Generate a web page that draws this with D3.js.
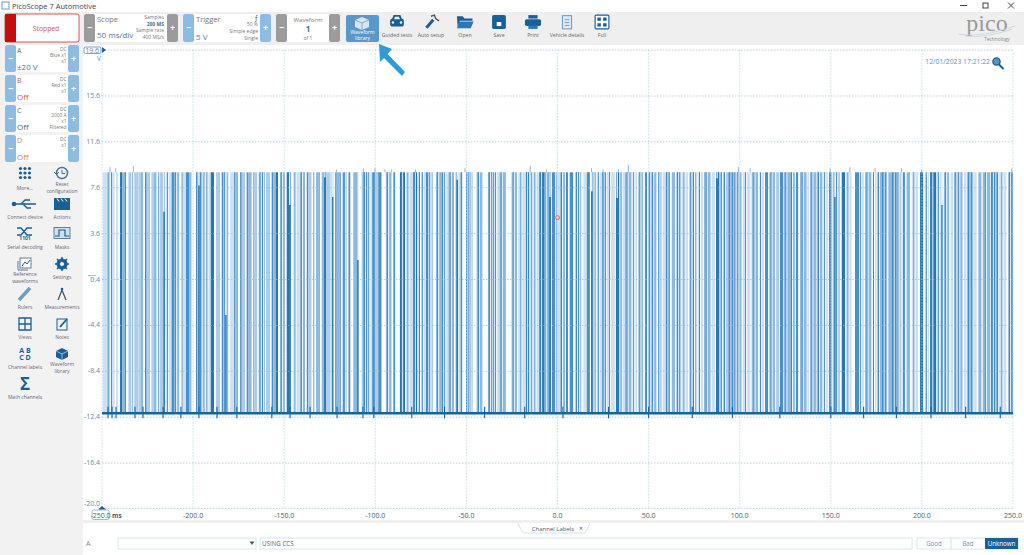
<!DOCTYPE html>
<html lang="en">
<head>
<meta charset="UTF-8">
<title>PicoScope 7 Automotive</title>
<script src="https://d3js.org/d3.v7.min.js"></script>
<style>
  html, body { margin: 0; padding: 0; background: #fff; overflow: hidden; }
  svg { display: block; }
  text { font-family: "Open Sans", sans-serif; }
</style>
</head>
<body>
<svg id="chart" width="1024" height="555"></svg>
<script>
// Waveform: time each band starts (ms) and how dense the trace looks there (0 = gap, 5 = solid)
const bandMs = [
  -249.6,-247.1,-246.5,-245.8,-245.1,-244.5,-243.0,-242.3,-241.0,-240.1,-239.0,-237.6,-236.8,-235.5,-233.7,-233.3,-232.8,-232.3,-231.3,-231.0,
  -230.4,-230.0,-228.8,-227.3,-226.4,-225.5,-223.6,-222.7,-222.2,-221.8,-220.0,-219.1,-218.5,-218.2,-216.3,-216.0,-215.4,-215.0,-211.8,-210.5,
  -207.5,-206.3,-205.7,-203.9,-202.0,-200.8,-198.4,-197.7,-196.2,-195.3,-190.3,-188.5,-187.4,-185.2,-184.3,-183.4,-180.6,-179.7,-177.5,-176.8,
  -175.2,-174.2,-173.3,-171.5,-170.6,-169.8,-167.8,-166.9,-166.4,-164.7,-164.0,-160.5,-160.0,-157.8,-156.9,-155.9,-154.5,-153.4,-152.3,-149.5,
  -148.6,-147.2,-146.2,-145.0,-141.3,-138.5,-137.6,-136.7,-134.9,-134.0,-133.4,-132.5,-130.3,-129.4,-128.1,-127.0,
  -124.9,-122.7,-122.0,-121.2,-119.4,-118.9,-117.9,-117.2,-115.4,-114.7,-113.6,-112.1,-110.3,-109.5,-107.5,-106.6,-104.4,-101.7,-100.2,-98.4,
  -96.5,-94.2,-91.0,-90.1,-89.0,-86.5,-83.7,-83.2,-79.2,-77.0,-72.2,-70.9,-68.2,-66.7,-63.6,-62.7,-59.9,-56.8,-56.3,-53.2,
  -52.2,-50.2,-49.5,-46.2,-44.4,-41.1,-38.0,-34.9,-31.9,-28.3,-25.2,-22.1,-21.5,-17.3,-15.5,-10.0,-7.4,-5.0,-1.9,-0.1,
  1.4,4.1,4.6,5.9,6.7,8.7,9.8,13.2,14.2,15.6,16.0,17.8,18.7,21.1,21.5,24.6,26.6,27.0,31.5,32.1,
  33.9,37.0,40.7,41.1,43.8,44.4,47.1,48.0,49.3,49.8,54.4,55.3,57.2,57.7,59.5,61.7,62.7,64.5,65.4,67.6,
  68.1,71.8,72.4,76.4,76.9,80.0,80.4,84.1,84.6,86.4,87.0,88.8,93.8,96.5,101.1,101.6,106.0,106.6,110.2,110.8,
  113.4,113.9,115.7,116.3,119.4,120.0,121.8,122.1,124.0,124.3,
  127.6,130.3,130.9,132.2,133.1,136.8,137.1,138.2,138.6,141.9,142.2,145.5,145.9,148.6,149.0,150.5,151.0,155.1,156.0,157.8,
  158.3,161.5,163.3,165.7,166.0,168.2,168.8,172.4,173.0,175.2,175.5,177.9,180.7,181.6,183.4,186.2,188.9,189.5,190.7,191.6,
  193.5,194.4,198.1,199.0,200.8,201.7,204.1,204.5,207.8,211.4,212.1,215.1,215.8,217.3,217.6,222.4,223.1,224.6,225.0,227.9,
  228.2,230.1,231.0,232.8,233.4,237.4,237.8,242.0,242.5,246.5,247.5,249.9
];
const bandLevel = [
  1,3,4,0,4,1,0,1,0,5,3,4,0,2,0,4,0,2,0,4,
  0,2,3,0,4,2,0,4,0,3,0,4,0,2,0,4,0,1,4,3,
  0,4,1,4,3,0,4,3,4,1,5,0,2,0,4,3,0,1,4,3,
  0,4,2,0,4,3,0,4,2,0,3,0,2,0,4,3,5,0,3,0,
  5,4,0,1,3,0,4,2,0,4,0,3,0,3,5,2,
  1,0,4,3,4,0,4,2,0,4,0,3,4,0,2,4,1,4,2,4,
  0,3,0,4,0,5,0,1,5,1,4,2,0,3,4,1,3,0,1,4,
  0,4,2,0,3,0,4,1,3,0,3,0,1,5,1,5,3,4,3,1,
  3,0,4,0,4,0,3,0,1,0,4,0,3,0,1,4,0,1,0,5,
  1,3,0,1,0,3,0,4,0,3,0,3,0,1,4,0,3,0,4,0,
  1,0,3,0,1,0,3,0,1,0,5,2,4,3,0,1,0,3,0,1,
  0,4,0,3,0,2,0,4,0,3,
  3,0,4,0,3,0,1,0,3,0,3,0,1,0,4,0,2,0,5,0,
  1,0,4,0,1,0,3,0,1,0,3,4,0,3,4,2,0,4,0,3,
  0,1,0,5,0,1,0,5,1,0,3,0,1,0,3,0,1,0,4,0,
  1,0,3,0,3,0,4,0,1,0,4,0
];
// thin low gaps inside the wider bands
const gapMs = [
  -213.4,-209,-193.4,-191.8,-182,-162.6,-161.3,-151,-143.5,-140,-116.2,-105.4,-103,-92.7,-85,-81.5,-78,-75.2,-73.6,-69.5,
  -65.2,-61.3,-58.3,-54.7,-48,-47,-42.8,-36.8,-35.8,-33.4,-30.3,-23.7,-19.5,-16.4,-13.5,-11.8,-8.7,-6.2,-3.3,-1,
  2.8,11,12.2,20,23,25.6,29.2,35.5,38.8,42.4,45.8,51.2,52.8,56.2,60.6,66.5,70,73.8,75.2,78.5,
  82.2,90.5,92.2,95.2,98,99.6,103.8,108.4,112,117.8,125.9,129,134.9,140.2,143.8,147.2,152.5,153.8,160,167,
  170.5,174,176.7,179.3,184.8,187.5,196.2,203,206,209.6,213.6,219.2,220.8,226.4,235.4,239.2,240.6,244.5,248.7
];
const highVolts = 8.95;
const lowVolts = -12.05;

// spikes over the top rail
const spikeMs = [-245.6,-242.5,-232.8,-121.2,-106.6,-100.2,-94.7,-91,-78,-50.8,-15,-6,18.7,25,33.4,38.9,99.3,105.7,149.6,160.5,174.3,188.9,199.9,249.3];
const spikeVolts = [9.4,9.3,9.5,9.2,9.3,9.3,9.2,9.2,9.2,9.3,9.5,9.2,9.3,9.2,9.2,9.6,9.4,9.3,9.3,9.4,9.3,9.3,9.2,9.3];

// pulses that stop short of the top rail
const shortMs = [-216,-196.8,-182,-147,-127.7,-123.4,-109.5,-55,-4.1,18.8,32.8,87.6,152.3,211];
const shortVolts = [5.5,7.8,-3.5,6.1,8.5,6.8,1.3,8.3,6.8,7.3,6.7,8.4,6.8,6.1];

// ringing around the bottom rail
const glitchMs = [-246.7,-244.5,-242.3,-231.9,-227.5,-216.5,-206.7,-196.8,-186.9,-176,-156.8,-146.8,-135.8,-121,-106.8,-100.8,-80,-62,-40,-18,3,28,50,74,96,122,150,168,186,205,224,243];
const glitchHigh = -11.5;
const glitchLow = -12.5;

const xTicks = [-200,-150,-100,-50,0,50,100,150,200,250];
const xGrid = [-250,-200,-150,-100,-50,0,50,100,150,200,250];
const xTickLabels = ["-200.0","-150.0","-100.0","-50.0","0.0","50.0","100.0","150.0","200.0","250.0"];
const yTicks = [15.6,11.6,7.6,3.6,-0.4,-4.4,-8.4,-12.4,-16.4,-20.0];
const yTickLabels = ["15.6","11.6","7.6","3.6","0.4","-4.4","-8.4","-12.4","-16.4","-20.0"];
const yGrid = [19.6,15.6,11.6,7.6,3.6,-0.4,-4.4,-8.4,-12.4,-16.4,-20.35];

const channelNames = ["A","B","C","D"];
const channelRanges = ["±20 V","Off","Off","Off"];
const channelInfo = [["DC","Blue x1","x1"],["DC","Red x1","x1"],["DC","2000 A","x1","Filtered"],["DC","x1"]];
const toolbarLabels = ["Guided tests","Auto setup","Open","Save","Print","Vehicle details","Full"];
const sideLabels = [
  ["More..."],["Reset","configuration"],["Connect device"],["Actions"],["Serial decoding"],["Masks"],
  ["Reference","waveforms"],["Settings"],["Rulers"],["Measurements"],["Views"],["Notes"],
  ["Channel labels"],["Waveform","library"],["Math channels"]
];

const svg = d3.select("#chart");
const blue = "#1a5f96";
const levelFill = ["#ffffff","#cde1f1","#abcde7","#8cb9dd","#4a90c6","#2377b4"];

const x = d3.scaleLinear().domain([-250, 250]).range([102, 1013]);
const y = d3.scaleLinear().domain([-20.35, 19.6]).range([508.4, 50.1]);

function label(parent, px, py, str, size, color, anchor, weight) {
  return parent.append("text").attr("x", px).attr("y", py).text(str)
    .attr("font-size", size).attr("fill", color)
    .attr("text-anchor", anchor || "start").attr("font-weight", weight || 400);
}

// chrome behind everything
svg.append("rect").attr("y", 12).attr("width", 1024).attr("height", 33).attr("fill", "#efefef");
svg.append("rect").attr("y", 45).attr("width", 83).attr("height", 510).attr("fill", "#f2f2f2");
svg.append("rect").attr("x", 83).attr("y", 520).attr("width", 941).attr("height", 3).attr("fill", "#efefef");

label(svg, 12, 9, "PicoScope 7 Automotive", 7.5, "#444");
svg.append("rect").attr("x", 2).attr("y", 2).attr("width", 7).attr("height", 7).attr("fill", "none").attr("stroke", "#6a9cc8");
svg.append("path").attr("d", "M960,5.5h7").attr("stroke", "#444");
svg.append("rect").attr("x", 983).attr("y", 3).attr("width", 5).attr("height", 5).attr("fill", "none").attr("stroke", "#444");
svg.append("path").attr("d", "M1008,2.5l6,6M1014,2.5l-6,6").attr("stroke", "#444");

// plot
const plot = svg.append("g");
plot.selectAll(".band").data(d3.range(bandMs.length - 1)).enter().append("rect")
  .attr("class", "band")
  .attr("x", i => x(bandMs[i]))
  .attr("width", i => x(bandMs[i + 1]) - x(bandMs[i]))
  .attr("y", y(highVolts))
  .attr("height", y(lowVolts) - y(highVolts))
  .attr("fill", i => levelFill[bandLevel[i]]);

plot.selectAll(".edge").data(gapMs).enter().append("line")
  .attr("x1", d => x(d) - 1).attr("x2", d => x(d) - 1)
  .attr("y1", y(highVolts)).attr("y2", y(lowVolts))
  .attr("stroke", "#3f88c1").attr("stroke-width", 1);
plot.selectAll(".gap").data(gapMs).enter().append("line")
  .attr("x1", d => x(d)).attr("x2", d => x(d))
  .attr("y1", y(highVolts)).attr("y2", y(lowVolts))
  .attr("stroke", "#fff").attr("stroke-width", 0.9);

plot.selectAll(".gridx").data(xGrid).enter().append("line")
  .attr("x1", d => x(d)).attr("x2", d => x(d))
  .attr("y1", y.range()[1]).attr("y2", y.range()[0])
  .attr("stroke", "#a9d3e6").attr("stroke-width", 0.7).attr("stroke-dasharray", "1.5 1.5");
plot.selectAll(".gridy").data(yGrid).enter().append("line")
  .attr("x1", x(-250)).attr("x2", x(250))
  .attr("y1", d => y(d)).attr("y2", d => y(d))
  .attr("stroke", "#8fbdd6").attr("stroke-width", 0.7).attr("stroke-dasharray", "1.5 1.5");

plot.selectAll(".spike").data(spikeMs).enter().append("line")
  .attr("x1", d => x(d)).attr("x2", d => x(d))
  .attr("y1", (d, i) => y(spikeVolts[i])).attr("y2", y(highVolts))
  .attr("stroke", "#6fa5cf").attr("stroke-width", 0.8);

// short pulses: clear the rest of the column, then the dark part
plot.selectAll(".shortTop").data(shortMs).enter().append("line")
  .attr("x1", d => x(d)).attr("x2", d => x(d))
  .attr("y1", y(highVolts)).attr("y2", (d, i) => y(shortVolts[i]))
  .attr("stroke", "#e4eff7").attr("stroke-width", 1.4);
plot.selectAll(".short").data(shortMs).enter().append("line")
  .attr("x1", d => x(d)).attr("x2", d => x(d))
  .attr("y1", (d, i) => y(shortVolts[i])).attr("y2", y(lowVolts))
  .attr("stroke", "#2f7db6").attr("stroke-width", 1.4);

// bottom rail
plot.append("line").attr("x1", x(-250)).attr("x2", x(250))
  .attr("y1", y(lowVolts)).attr("y2", y(lowVolts))
  .attr("stroke", "#14649f").attr("stroke-width", 2.6);
plot.selectAll(".glitch").data(glitchMs).enter().append("line")
  .attr("x1", d => x(d)).attr("x2", d => x(d))
  .attr("y1", y(glitchHigh)).attr("y2", y(glitchLow))
  .attr("stroke", "#14649f").attr("stroke-width", 1.1);

plot.append("circle").attr("cx", x(0)).attr("cy", y(3.6) - 16).attr("r", 2)
  .attr("fill", "#f6c9c4").attr("stroke", "#c9483c").attr("stroke-width", 0.7);

// axis labels
svg.selectAll(".ylab").data(yTicks).enter().append("text")
  .attr("x", 100).attr("y", d => y(d) + 2)
  .attr("text-anchor", "end").attr("font-size", 7).attr("fill", "#5f8bb0")
  .text((d, i) => yTickLabels[i]);
svg.append("line").attr("x1", 88).attr("x2", 96).attr("y1", 275.5).attr("y2", 275.5).attr("stroke", "#7aa3c4").attr("stroke-width", 0.7);
svg.append("rect").attr("x", 84).attr("y", 47).attr("width", 17).attr("height", 6.5).attr("rx", 1.5)
  .attr("fill", "#fff").attr("stroke", "#3f7fb0").attr("stroke-width", 0.7);
label(svg, 99, 52.5, "19.6", 7, "#5f8bb0", "end");
svg.append("path").attr("d", "M102,47l4,3l-4,3z").attr("fill", blue);
label(svg, 99, 61, "V", 6.5, "#5f8bb0", "middle");

svg.selectAll(".xlab").data(xTicks).enter().append("text")
  .attr("x", d => x(d)).attr("y", 518)
  .attr("text-anchor", "middle").attr("font-size", 7).attr("fill", "#4d5a66")
  .text((d, i) => xTickLabels[i]);
svg.append("rect").attr("x", 92).attr("y", 510).attr("width", 17).attr("height", 9.5).attr("rx", 1.5)
  .attr("fill", "#fff").attr("stroke", "#7d9db8").attr("stroke-width", 0.7);
label(svg, 100.5, 518, "-250.0", 7, "#4d5a66", "middle");
label(svg, 112, 518, "ms", 6.5, "#4d5a66", "start", 700);
svg.append("path").attr("d", "M98,509.5l4,-3.5l4,3.5z").attr("fill", blue);

// timestamp and zoom glass
label(svg, 990, 64, "12/01/2023 17:21:22", 6.8, "#5f93bf", "end");
svg.append("circle").attr("cx", 996.5).attr("cy", 61.5).attr("r", 3.6).attr("fill", "#5f93bf").attr("stroke", blue).attr("stroke-width", 1.4);
svg.append("path").attr("d", "M999,64.5l4.5,4.5").attr("stroke", blue).attr("stroke-width", 2);

// stopped button
svg.append("rect").attr("x", 5).attr("y", 14).attr("width", 74).attr("height", 28).attr("rx", 2)
  .attr("fill", "#fff").attr("stroke", "#c8332a").attr("stroke-width", 0.8);
svg.append("rect").attr("x", 5).attr("y", 14).attr("width", 11).attr("height", 28).attr("fill", "#c40d0d");
label(svg, 46, 31, "Stopped", 6.8, "#c9605a", "middle");

// stepper panels in the toolbar
function stepper(px, w, color) {
  svg.append("rect").attr("x", px).attr("y", 14).attr("width", w).attr("height", 28).attr("fill", "#fff");
  [px, px + w - 11].forEach((bx, i) => {
    svg.append("rect").attr("x", bx).attr("y", 14).attr("width", 11).attr("height", 28).attr("rx", 2).attr("fill", color);
    label(svg, bx + 5.5, 31, i ? "+" : "−", 9, "#fff", "middle", 700);
  });
}
stepper(84, 94, "#9b9b9b");
stepper(183, 88, "#8dbbe2");
stepper(276, 64, "#9b9b9b");

label(svg, 97, 22, "Scope", 7.5, "#777");
label(svg, 97, 38, "50 ms/div", 8, "#4a7a9f");
label(svg, 164, 19, "Samples", 5, "#777", "end");
label(svg, 164, 26, "200 MS", 5, "#3f6f95", "end", 700);
label(svg, 164, 32, "Sample rate", 5, "#777", "end");
label(svg, 164, 39, "400 MS/s", 5, "#777", "end");
label(svg, 196, 22, "Trigger", 7.5, "#777");
label(svg, 196, 40, "5 V", 8, "#4a7a9f");
label(svg, 258, 20, "ƒ", 6.5, "#445", "end");
label(svg, 258, 26, "50 %", 5, "#777", "end");
label(svg, 258, 33, "Simple edge", 5, "#777", "end");
label(svg, 258, 40, "Single", 5, "#777", "end");
label(svg, 308, 22, "Waveform", 6, "#777", "middle");
label(svg, 308, 32, "1", 8, "#3f6f95", "middle", 700);
label(svg, 308, 40, "of 1", 5, "#777", "middle");

// toolbar buttons
svg.append("rect").attr("x", 346).attr("y", 15).attr("width", 33).attr("height", 27).attr("rx", 2).attr("fill", "#5b97c9");
svg.append("path").attr("d", "M362,17l7,3v7l-7,3l-7,-3v-7z").attr("fill", "#d7e6f3");
svg.append("path").attr("d", "M355,20l7,3l7,-3M362,23v7").attr("fill", "none").attr("stroke", "#5b97c9").attr("stroke-width", 0.7);
label(svg, 362.5, 34, "Waveform", 5, "#fff", "middle");
label(svg, 362.5, 40, "library", 5, "#fff", "middle");

const toolIcons = [
  g => { g.append("rect").attr("x", -6).attr("y", -3).attr("width", 12).attr("height", 7).attr("rx", 2.5).attr("fill", blue);
         g.append("path").attr("d", "M-4.5,-2l1.5,-4h6l1.5,4z").attr("fill", blue);
         g.append("path").attr("d", "M-2.5,-2.5l.7,-2h3.6l.7,2z").attr("fill", "#efefef");
         g.append("circle").attr("cx", -3.5).attr("cy", 0.5).attr("r", 1.1).attr("fill", "#efefef");
         g.append("circle").attr("cx", 3.5).attr("cy", 0.5).attr("r", 1.1).attr("fill", "#efefef"); },
  g => { g.append("path").attr("d", "M-4,5L2,-2").attr("stroke", blue).attr("stroke-width", 2.6);
         g.append("path").attr("d", "M0,-5l3,-1l1,3l3,2").attr("stroke", "#555").attr("fill", "none").attr("stroke-width", 1.2); },
  g => { g.append("path").attr("d", "M-7,-5h5l1.5,2h7v2h-11l-2,5z").attr("fill", blue);
         g.append("path").attr("d", "M-5,-0.5h12.5l-2.5,6h-12z").attr("fill", "#2b78b5"); },
  g => { g.append("rect").attr("x", -6).attr("y", -6).attr("width", 12).attr("height", 12).attr("rx", 1.5).attr("fill", blue);
         g.append("rect").attr("x", -2).attr("y", 0).attr("width", 4).attr("height", 3.5).attr("fill", "#fff"); },
  g => { g.append("rect").attr("x", -7).attr("y", -2.5).attr("width", 14).attr("height", 6).attr("rx", 1.5).attr("fill", blue);
         g.append("rect").attr("x", -4).attr("y", -6).attr("width", 8).attr("height", 3).attr("fill", blue);
         g.append("rect").attr("x", -4).attr("y", 3).attr("width", 8).attr("height", 3).attr("fill", "#2b78b5"); },
  g => { g.append("rect").attr("x", -4).attr("y", -5.5).attr("width", 8).attr("height", 11.5).attr("fill", "#dfe9f1").attr("stroke", "#5f93bf").attr("stroke-width", 0.8);
         g.append("path").attr("d", "M-2,-2h4M-2,0.5h4M-2,3h4").attr("stroke", "#5f93bf").attr("stroke-width", 0.7); },
  g => { g.append("rect").attr("x", -6).attr("y", -6).attr("width", 12).attr("height", 12).attr("rx", 1).attr("fill", "#fff").attr("stroke", blue);
         g.append("path").attr("d", "M-4,-4h3v3h-3zM1,-4h3v3h-3zM-4,1h3v3h-3zM1,1h3v3h-3z").attr("fill", blue); }
];
const toolCenters = [397, 431, 465, 499, 533, 567, 602];
toolbarLabels.forEach((t, i) => {
  toolIcons[i](svg.append("g").attr("transform", `translate(${toolCenters[i]},22) scale(1.15)`));
  label(svg, toolCenters[i], 37, t, 5.2, "#666", "middle");
});

// big blue arrow from the annotation
svg.append("path").attr("d", "M379,44L392,49L387.5,54L405,72L402,76L384,58L380,62z").attr("fill", "#2d9cd5");

// pico logo
label(svg, 987, 31, "pico", 24, "#9a9a9a", "middle").style("font-family", "'Liberation Serif', serif");
svg.append("path").attr("d", "M958,34C975,37 995,33 1015,26M965,36C980,38 998,34 1012,29").attr("stroke", "#c4d4de").attr("fill", "none").attr("stroke-width", 0.8);
label(svg, 997, 41, "Technology", 4.8, "#888", "middle");

// channel cards
channelNames.forEach((name, i) => {
  const top = 45 + i * 30;
  const color = ["#5a6a78", "#c65c5c", "#5a6a78", "#c9845a"][i];
  svg.append("rect").attr("x", 5).attr("y", top).attr("width", 74).attr("height", 27).attr("fill", "#fff");
  [5, 68].forEach((bx, k) => {
    svg.append("rect").attr("x", bx).attr("y", top).attr("width", 11).attr("height", 27).attr("rx", 2).attr("fill", "#8dbbe2");
    label(svg, bx + 5.5, top + 17, k ? "+" : "−", 9, "#fff", "middle", 700);
  });
  label(svg, 17, top + 8, name, 7, color);
  label(svg, 17, top + 25, channelRanges[i], 8, i === 0 ? "#4a7a9f" : color);
  channelInfo[i].forEach((t, k) => label(svg, 66.5, top + 6 + k * 6, t, 4.8, "#777", "end"));
});

// side tools
const sideX = [25, 62];
const sideY = [173, 204, 233, 264, 294, 324, 354, 384];
const labelY = [190, 219, 249, 279, 309, 339, 369, 399];
const twoLineY = [186, 0, 0, 276, 0, 0, 366, 0];
const sideIcons = {
  0: g => g.selectAll("circle").data(d3.range(9)).enter().append("circle")
        .attr("cx", d => (d % 3 - 1) * 4.5).attr("cy", d => (Math.floor(d / 3) - 1) * 4.5).attr("r", 1.6).attr("fill", blue),
  1: g => { g.append("circle").attr("r", 5.5).attr("fill", "none").attr("stroke", "#456f92").attr("stroke-width", 1.4);
            g.append("path").attr("d", "M0,-3v3.5h3M-8,-1l2.5,2.5l2.5,-2.5").attr("fill", "none").attr("stroke", "#456f92"); },
  2: g => { g.append("path").attr("d", "M-12,0h23M-4,0l4,-4h5M-2,0l4,4h4").attr("stroke", blue).attr("stroke-width", 1.3).attr("fill", "none");
            g.append("circle").attr("cx", -11).attr("r", 2.3).attr("fill", blue); },
  3: g => { g.append("rect").attr("x", -8).attr("y", -2).attr("width", 16).attr("height", 8).attr("fill", blue);
            g.append("path").attr("d", "M-8,-6h16v4h-16z").attr("fill", blue);
            g.append("path").attr("d", "M-5,-5.5l2,3M-1,-5.5l2,3M3,-5.5l2,3").attr("stroke", "#fff"); },
  4: g => { g.append("path").attr("d", "M-8,-5h4l6,7h5M-8,2h4l6,-7h5").attr("fill", "none").attr("stroke", blue).attr("stroke-width", 1.4);
            label(g, 0, 7, "1101", 5, blue, "middle", 700); },
  5: g => { g.append("rect").attr("x", -8).attr("y", -5.5).attr("width", 16).attr("height", 11).attr("fill", "#cfe0ec").attr("stroke", "#5f7f9a");
            g.append("path").attr("d", "M-7,3h4v-6h6v6h4").attr("fill", "none").attr("stroke", blue).attr("stroke-width", 1.2); },
  6: g => { g.append("rect").attr("x", -5).attr("y", -6).attr("width", 11).attr("height", 10).attr("fill", "#fff").attr("stroke", "#5f7f9a");
            g.append("path").attr("d", "M-7,-3v9h10").attr("fill", "none").attr("stroke", "#5f7f9a");
            g.append("path").attr("d", "M-3,2l3,-4l2,2l3,-4").attr("fill", "none").attr("stroke", blue); },
  7: g => { g.append("circle").attr("r", 4).attr("fill", "none").attr("stroke", blue).attr("stroke-width", 3.2);
            g.append("path").attr("d", "M0,-7v14M-7,0h14M-5,-5l10,10M5,-5l-10,10").attr("stroke", blue).attr("stroke-width", 1.6);
            g.append("circle").attr("r", 2).attr("fill", "#f2f2f2"); },
  8: g => g.append("path").attr("d", "M-6,6L5,-6").attr("stroke", "#6f9cc0").attr("stroke-width", 3.4),
  9: g => { g.append("path").attr("d", "M-4,6L0,-4L4,6").attr("stroke", "#3a4f62").attr("stroke-width", 1.2).attr("fill", "none");
            g.append("circle").attr("cy", -5).attr("r", 1.3).attr("fill", blue); },
  10: g => g.append("path").attr("d", "M-6,-6h12v12h-12zM0,-6v12M-6,0h12").attr("stroke", blue).attr("stroke-width", 1.3).attr("fill", "none"),
  11: g => { g.append("rect").attr("x", -5).attr("y", -5).attr("width", 10).attr("height", 11).attr("fill", "none").attr("stroke", blue);
             g.append("path").attr("d", "M-2,3L5,-5").attr("stroke", blue).attr("stroke-width", 1.8); },
  12: g => { label(g, 0, -1, "A B", 7, blue, "middle", 700); label(g, 0, 6, "C D", 7, blue, "middle", 700); },
  13: g => { g.append("path").attr("d", "M0,-6l6,3v6l-6,3l-6,-3v-6z").attr("fill", blue);
             g.append("path").attr("d", "M-6,-3l6,3l6,-3M0,0v6").attr("fill", "none").attr("stroke", "#cfe0ec").attr("stroke-width", 0.7); },
  14: g => label(g, 0, 6, "Σ", 17, blue, "middle", 700)
};
sideLabels.forEach((lines, i) => {
  const cx = sideX[i % 2], row = Math.floor(i / 2);
  sideIcons[i](svg.append("g").attr("transform", `translate(${cx},${sideY[row]})`));
  lines.forEach((t, k) => {
    const ly = lines.length > 1 ? twoLineY[row] + k * 6.5 : labelY[row];
    label(svg, cx, ly, t, 5, "#667", "middle");
  });
});

// notes row at the bottom
svg.append("path").attr("d", "M518,523.5l5,9.5h62l5,-9.5").attr("fill", "#fff").attr("stroke", "#bcd3e2").attr("stroke-width", 0.7);
label(svg, 553, 531, "Channel Labels", 6, "#556", "middle");
label(svg, 581, 531, "×", 7, "#556", "middle");
label(svg, 86, 546, "A", 7, "#6a8aa5");
svg.append("rect").attr("x", 118).attr("y", 538).attr("width", 138).attr("height", 11).attr("fill", "#fff").attr("stroke", "#cfe0ec").attr("stroke-width", 0.8);
svg.append("path").attr("d", "M249.5,541.5h5l-2.5,3.5z").attr("fill", "#4a5d6e");
svg.append("rect").attr("x", 260).attr("y", 538).attr("width", 652).attr("height", 11).attr("fill", "#fff").attr("stroke", "#cfe0ec").attr("stroke-width", 0.8);
label(svg, 262, 546, "USING CCS", 6.2, "#667");
svg.append("rect").attr("x", 917).attr("y", 538).attr("width", 101).attr("height", 11).attr("fill", "#fff").attr("stroke", "#cfe0ec").attr("stroke-width", 0.8);
svg.append("rect").attr("x", 985).attr("y", 538).attr("width", 33).attr("height", 11).attr("fill", blue);
svg.append("line").attr("x1", 951).attr("x2", 951).attr("y1", 538).attr("y2", 549).attr("stroke", "#cfe0ec");
label(svg, 934, 546, "Good", 6.2, "#7d93a6", "middle");
label(svg, 968, 546, "Bad", 6.2, "#7d93a6", "middle");
label(svg, 1001.5, 546, "Unknown", 6.2, "#fff", "middle");
</script>
</body>
</html>
